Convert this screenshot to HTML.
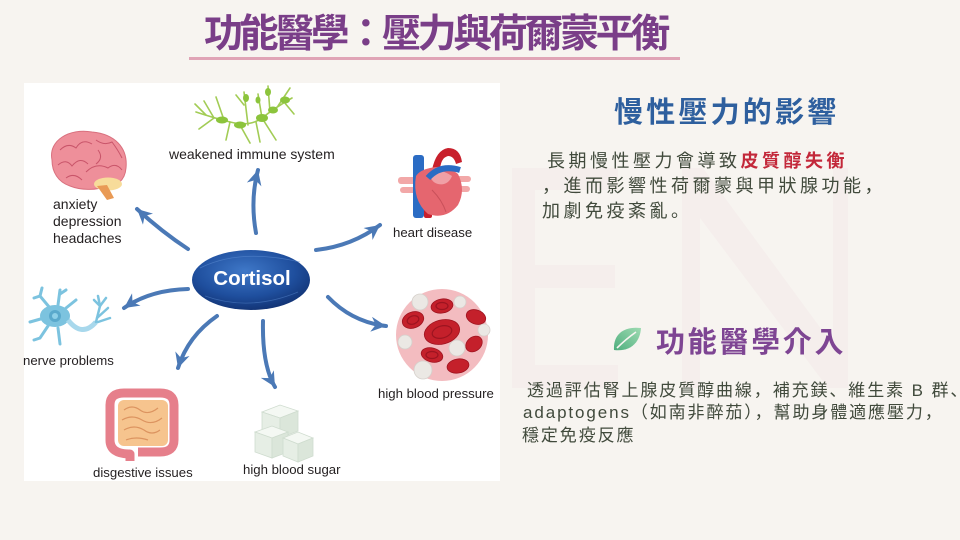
<!DOCTYPE html>
<html>
<head>
<meta charset="utf-8">
<style>
html,body{margin:0;padding:0;}
body{width:960px;height:540px;background:#f7f4f0;position:relative;overflow:hidden;font-family:"Liberation Sans","Noto Sans CJK JP",sans-serif;}
.t{position:absolute;white-space:nowrap;font-family:"Liberation Sans","Noto Sans CJK JP",sans-serif;}
#title{left:204px;top:15px;font-size:39px;line-height:39px;letter-spacing:-3.4px;font-weight:bold;color:#7a3e88;}
#h2{left:614px;top:99px;font-size:29px;line-height:29px;letter-spacing:3.2px;font-weight:bold;color:#2e5f9e;}
#h3{left:656px;top:329px;font-size:29px;line-height:29px;letter-spacing:2.7px;font-weight:bold;color:#7e4593;}
.p1{font-size:18px;line-height:25px;letter-spacing:3.5px;color:#414a3c;}
.p2{font-size:17px;line-height:22.5px;letter-spacing:1.9px;color:#414a3c;}
.red{color:#c3283a;font-weight:bold;}
</style>
</head>
<body>
<svg width="960" height="540" style="position:absolute;left:0;top:0" xmlns="http://www.w3.org/2000/svg">
  <defs>
    <marker id="ah" markerUnits="userSpaceOnUse" markerWidth="15" markerHeight="15" refX="16" refY="8" orient="auto" viewBox="0 0 16 16">
      <path d="M0,0 L16,8 L0,16 L5,8 Z" fill="#4b79b6"/>
    </marker>
    <radialGradient id="cg" cx="45%" cy="35%" r="70%">
      <stop offset="0" stop-color="#3f78c8"/>
      <stop offset="0.6" stop-color="#1f4f9e"/>
      <stop offset="1" stop-color="#102f6e"/>
    </radialGradient>
    <linearGradient id="lg" x1="0" y1="1" x2="1" y2="0">
      <stop offset="0" stop-color="#4fae7e"/>
      <stop offset="1" stop-color="#9edbb2"/>
    </linearGradient>
  </defs>

  <!-- watermark -->
  <g fill="#f5eeec">
    <path d="M512,168 H618 V190 H535 V265 H615 V288 H535 V365 H618 V388 H512Z"/>
    <path d="M682,168 H703 L833,345 V168 H848 V388 H828 L700,218 V388 H682Z"/>
  </g>

  <!-- title underline -->
  <rect x="189" y="57" width="491" height="3" fill="#e0a4b6"/>

  <!-- diagram box -->
  <rect x="24" y="83" width="476" height="398" fill="#ffffff"/>

  <!-- immune cells -->
  <g stroke="#a2cc55" stroke-width="1.6" fill="none" stroke-linecap="round">
    <path d="M196,112 Q214,118 230,122 Q250,127 262,118 Q276,107 292,98"/>
    <path d="M214,118 L204,101"/><path d="M214,118 L199,129"/><path d="M206,115 L195,104"/>
    <path d="M230,122 L226,140"/><path d="M240,125 L250,143"/><path d="M248,125 L244,92"/>
    <path d="M244,105 L236,95"/><path d="M262,118 L258,94"/><path d="M262,118 L276,140"/>
    <path d="M270,112 L268,86"/><path d="M278,106 L290,88"/><path d="M284,102 L294,114"/>
    <path d="M224,120 L216,97"/><path d="M256,122 L260,142"/>
  </g>
  <g fill="#8cc43c">
    <ellipse cx="222" cy="120" rx="6" ry="3.5"/>
    <ellipse cx="240" cy="125" rx="6" ry="3.5"/>
    <ellipse cx="262" cy="118" rx="6" ry="4"/>
    <ellipse cx="273" cy="110" rx="5" ry="3.5"/>
    <ellipse cx="285" cy="100" rx="5" ry="3.5"/>
    <ellipse cx="246" cy="98" rx="3" ry="4"/>
    <ellipse cx="268" cy="92" rx="3" ry="4"/>
    <ellipse cx="258" cy="100" rx="2.5" ry="3.5"/>
  </g>

  <!-- brain -->
  <path d="M52,160 C48,140 70,128 92,132 C115,134 128,148 126,168 C125,181 116,187 106,186 C96,191 80,190 70,186 C58,182 52,172 52,160Z" fill="#ee8f9a" stroke="#d9707e" stroke-width="1"/>
  <ellipse cx="108" cy="184" rx="14" ry="6.5" fill="#f7dc9a"/>
  <path d="M97,186 L107,200 L114,198 L107,185Z" fill="#e99a55"/>
  <g stroke="#c9556a" stroke-width="1" fill="none">
    <path d="M60,150 Q68,142 76,148 Q82,138 92,144"/>
    <path d="M58,165 Q66,158 72,166 Q80,156 88,164"/>
    <path d="M96,140 Q104,146 112,142 Q118,150 122,158"/>
    <path d="M86,172 Q96,162 108,168 Q116,162 122,170"/>
    <path d="M66,178 Q74,172 82,180"/>
    <path d="M98,150 Q104,158 96,164"/>
  </g>

  <!-- heart -->
  <path d="M432,170 Q436,150 448,148 Q460,148 462,162 L456,164 Q454,156 448,156 Q440,158 440,172Z" fill="#c8202c"/>
  <rect x="398" y="177" width="18" height="7" rx="3" fill="#f2a8a8"/>
  <rect x="400" y="187" width="16" height="6" rx="3" fill="#f2a8a8"/>
  <rect x="456" y="176" width="15" height="6" rx="3" fill="#f2a8a8"/>
  <rect x="456" y="186" width="14" height="6" rx="3" fill="#f2a8a8"/>
  <rect x="413" y="155" width="11" height="63" rx="3" fill="#2b6cc4"/>
  <rect x="424" y="198" width="8" height="20" rx="2" fill="#c8202c"/>
  <path d="M416,176 Q412,200 428,214 Q446,220 458,205 Q466,190 458,174 Q446,164 430,168 Q420,170 416,176Z" fill="#e5666f"/>
  <path d="M430,172 Q440,168 452,176 Q448,186 438,184 Q430,182 430,172Z" fill="#f0a0a6"/>
  <path d="M428,178 Q440,164 460,170" stroke="#2b6cc4" stroke-width="6" fill="none"/>
  <path d="M432,190 Q442,200 446,212" stroke="#c9505a" stroke-width="1" fill="none"/>

  <!-- neuron -->
  <g stroke="#7cc3df" stroke-width="3" fill="none" stroke-linecap="round">
    <path d="M50,308 L40,296 L34,298"/><path d="M40,296 L42,288"/>
    <path d="M58,305 L60,290"/><path d="M60,294 L66,290"/>
    <path d="M44,318 L30,322"/><path d="M48,326 L40,338 L34,340"/>
    <path d="M58,328 L60,344"/><path d="M66,308 L76,300"/>
  </g>
  <ellipse cx="55" cy="316" rx="15" ry="11" fill="#7cc3df"/>
  <circle cx="55" cy="316" r="6" fill="#5aa9cc"/>
  <circle cx="55" cy="316" r="3" fill="#8fd0e8"/>
  <path d="M68,320 Q82,338 96,322" stroke="#a8d8ec" stroke-width="5" fill="none"/>
  <g stroke="#7cc3df" stroke-width="2.5" fill="none" stroke-linecap="round">
    <path d="M96,322 L100,306 L98,296"/><path d="M100,306 L106,298"/>
    <path d="M97,318 L108,308"/><path d="M98,322 L110,318"/><path d="M100,306 L94,300"/>
  </g>

  <!-- intestines -->
  <rect x="118" y="400" width="50" height="46" rx="6" fill="#f6c48e"/>
  <g stroke="#dc9460" stroke-width="1.2" fill="none">
    <path d="M124,410 Q132,404 140,410 Q148,416 158,408"/>
    <path d="M122,420 Q132,414 142,420 Q152,426 162,418"/>
    <path d="M124,430 Q134,424 144,430 Q152,436 160,430"/>
    <path d="M126,440 Q136,436 148,440"/>
  </g>
  <path d="M130,461 L130,454 Q110,454 110,440 L110,405 Q110,393 124,393 L160,393 Q174,393 174,405 L174,440 Q174,452 160,452 L138,452" stroke="#e67f8b" stroke-width="9" fill="none" stroke-linejoin="round"/>

  <!-- sugar cubes -->
  <g stroke="#cfdccf" stroke-width="0.8">
    <polygon points="262,412 280,405 298,411 280,418" fill="#f4f8f3"/>
    <polygon points="262,412 280,418 280,438 262,432" fill="#e6eee5"/>
    <polygon points="280,418 298,411 298,431 280,438" fill="#dbe6da"/>
    <polygon points="255,432 272,426 288,432 272,438" fill="#f4f8f3"/>
    <polygon points="255,432 272,438 272,458 255,452" fill="#e6eee5"/>
    <polygon points="272,438 288,432 288,452 272,458" fill="#dbe6da"/>
    <polygon points="283,438 298,432 313,438 298,444" fill="#f4f8f3"/>
    <polygon points="283,438 298,444 298,462 283,456" fill="#e6eee5"/>
    <polygon points="298,444 313,438 313,456 298,462" fill="#dbe6da"/>
  </g>

  <!-- blood -->
  <circle cx="442" cy="335" r="46" fill="#f3bcc0"/>
  <g fill="#c4202b" stroke="#9e1420" stroke-width="0.8">
    <ellipse cx="413" cy="320" rx="11" ry="8" transform="rotate(-20 413 320)"/>
    <ellipse cx="442" cy="306" rx="11" ry="7" transform="rotate(-10 442 306)"/>
    <ellipse cx="476" cy="317" rx="10" ry="7" transform="rotate(20 476 317)"/>
    <ellipse cx="474" cy="344" rx="9" ry="7" transform="rotate(-40 474 344)"/>
    <ellipse cx="432" cy="355" rx="11" ry="7" transform="rotate(15 432 355)"/>
    <ellipse cx="458" cy="366" rx="11" ry="7" transform="rotate(-10 458 366)"/>
    <ellipse cx="442" cy="332" rx="18" ry="12" transform="rotate(-15 442 332)"/>
  </g>
  <g fill="none" stroke="#9c1420" stroke-width="1.2">
    <ellipse cx="442" cy="332" rx="10" ry="6" transform="rotate(-15 442 332)"/>
    <ellipse cx="413" cy="320" rx="6" ry="4" transform="rotate(-20 413 320)"/>
    <ellipse cx="442" cy="306" rx="6" ry="3.5"/>
    <ellipse cx="432" cy="355" rx="6" ry="3.5"/>
  </g>
  <g fill="#ebe8e4" stroke="#d5d0cb" stroke-width="0.8">
    <circle cx="420" cy="302" r="8"/>
    <circle cx="460" cy="302" r="6"/>
    <circle cx="405" cy="342" r="7"/>
    <circle cx="457" cy="348" r="8"/>
    <circle cx="484" cy="330" r="6"/>
    <circle cx="423" cy="370" r="9"/>
  </g>

  <!-- arrows -->
  <g stroke="#4b79b6" stroke-width="4" fill="none" stroke-linecap="round">
    <path d="M256,233 Q250,200 258,170" marker-end="url(#ah)"/>
    <path d="M188,249 Q162,232 137,209" marker-end="url(#ah)"/>
    <path d="M316,250 Q352,246 380,225" marker-end="url(#ah)"/>
    <path d="M188,289 Q150,290 124,308" marker-end="url(#ah)"/>
    <path d="M217,316 Q188,336 178,368" marker-end="url(#ah)"/>
    <path d="M263,321 Q262,365 275,387" marker-end="url(#ah)"/>
    <path d="M328,297 Q352,322 386,326" marker-end="url(#ah)"/>
  </g>

  <!-- cortisol -->
  <ellipse cx="251" cy="280" rx="59" ry="30" fill="url(#cg)"/>
  <path d="M200,268 Q240,248 300,262" stroke="#5a8ad0" stroke-width="0.8" fill="none" opacity="0.6"/>
  <path d="M205,296 Q250,312 298,292" stroke="#5a8ad0" stroke-width="0.8" fill="none" opacity="0.5"/>
  <text x="252" y="285" text-anchor="middle" font-family="Liberation Sans, sans-serif" font-weight="bold" font-size="20.5" fill="#ffffff">Cortisol</text>

  <!-- labels -->
  <g font-family="Liberation Sans, sans-serif" font-size="14" fill="#231f20">
    <text x="169" y="159">weakened immune system</text>
    <text x="53" y="209">anxiety</text>
    <text x="53" y="226">depression</text>
    <text x="53" y="243">headaches</text>
    <text x="393" y="237" font-size="13.2">heart disease</text>
    <text x="23" y="365" font-size="13.2">nerve problems</text>
    <text x="93" y="477" font-size="13.2">disgestive issues</text>
    <text x="243" y="474" font-size="13.2">high blood sugar</text>
    <text x="378" y="398" font-size="13.2">high blood pressure</text>
  </g>

  <!-- leaf icon -->
  <path d="M614,350 C613,334 624,326 641,328 C640,343 630,352 614,350Z" fill="url(#lg)"/>
  <path d="M617,348 Q626,339 636,332" stroke="#f7f4f0" stroke-width="1.6" fill="none"/>
</svg>

<div id="title" class="t">功能醫學：壓力與荷爾蒙平衡</div>
<div id="h2" class="t">慢性壓力的影響</div>
<div class="t p1" style="left:547px;top:149px;">長期慢性壓力會導致<span class="red">皮質醇失衡</span></div>
<div class="t p1" style="left:542px;top:174px;">，進而影響性荷爾蒙與甲狀腺功能，</div>
<div class="t p1" style="left:542px;top:199px;">加劇免疫紊亂。</div>
<div id="h3" class="t">功能醫學介入</div>
<div class="t p2" style="left:527px;top:379.5px;">透過評估腎上腺皮質醇曲線，補充鎂、維生素 B 群、</div>
<div class="t p2" style="left:523px;top:402px;">adaptogens（如南非醉茄），幫助身體適應壓力，</div>
<div class="t p2" style="left:522px;top:424.5px;">穩定免疫反應</div>
</body>
</html>
